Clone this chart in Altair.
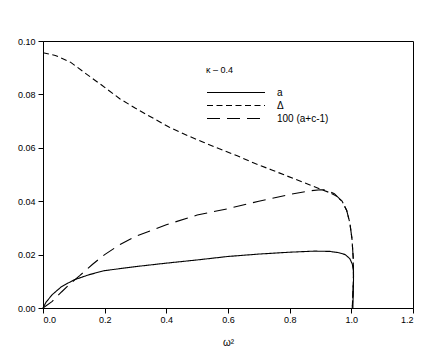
import altair as alt
import pandas as pd

# series: a
x_a = [0.0, 0.01, 0.03, 0.06, 0.10, 0.15, 0.20, 0.30, 0.40, 0.50, 0.60, 0.70, 0.80, 0.88, 0.93,
       0.96, 0.98, 0.995, 1.003, 1.007, 1.007, 1.006, 1.005]
y_a = [0.0, 0.0022, 0.0050, 0.0080, 0.0105, 0.0125, 0.0140, 0.0155, 0.0168, 0.0180, 0.0193,
       0.0202, 0.0209, 0.0213, 0.0212, 0.0207, 0.0200, 0.0185, 0.0165, 0.0140, 0.0100, 0.0050, 0.0]

# series: Delta
x_d = [0.0, 0.04, 0.09, 0.14, 0.19, 0.25, 0.30, 0.36, 0.41, 0.47, 0.52, 0.57, 0.63, 0.69, 0.74,
       0.79, 0.85, 0.90, 0.93, 0.95, 0.97, 0.985, 0.995, 1.002, 1.006, 1.007, 1.005, 1.003]
y_d = [0.0956, 0.0946, 0.0920, 0.0877, 0.0835, 0.0783, 0.0748, 0.0709, 0.0677, 0.0645, 0.0621,
       0.0597, 0.0570, 0.0540, 0.0518, 0.0495, 0.0468, 0.0445, 0.0432, 0.0420, 0.0400, 0.0365,
       0.0320, 0.0260, 0.0190, 0.0120, 0.0050, 0.0]

# series: 100 (a+c-1)
x_c = [0.0, 0.03, 0.06, 0.09, 0.12, 0.16, 0.20, 0.25, 0.30, 0.40, 0.50, 0.60, 0.70, 0.80, 0.86,
       0.90, 0.92, 0.945, 0.97, 0.985, 0.995, 1.002, 1.006, 1.007, 1.005, 1.003]
y_c = [0.0, 0.0025, 0.0060, 0.0093, 0.0122, 0.0163, 0.0200, 0.0238, 0.0268, 0.0312, 0.0348,
       0.0372, 0.0400, 0.0425, 0.0438, 0.0443, 0.0442, 0.0428, 0.0400, 0.0365, 0.0320, 0.0260,
       0.0190, 0.0120, 0.0050, 0.0]

names = ["a", "Δ", "100 (a+c-1)"]
dashes = [[1, 0], [6, 3.5], [13, 7]]

rows = []
for name, xs, ys in [(names[0], x_a, y_a), (names[1], x_d, y_d), (names[2], x_c, y_c)]:
    for i, (x, y) in enumerate(zip(xs, ys)):
        rows.append({"series": name, "w2": x, "val": y, "i": i})
df = pd.DataFrame(rows)

FONT = "Liberation Sans"

chart = alt.Chart(df).mark_line(color="black", strokeWidth=1.1).encode(
    x=alt.X("w2:Q", scale=alt.Scale(domain=[0, 1.2], nice=False, zero=False),
            axis=alt.Axis(title="ω²", values=[0, 0.2, 0.4, 0.6, 0.8, 1.0, 1.2], format=".1f",
                          grid=False, tickSize=5, labelPadding=2, titlePadding=13)),
    y=alt.Y("val:Q", scale=alt.Scale(domain=[0, 0.1], nice=False),
            axis=alt.Axis(title=None, values=[0, 0.02, 0.04, 0.06, 0.08, 0.10], format=".2f",
                          grid=False, tickSize=5, labelPadding=3)),
    strokeDash=alt.StrokeDash("series:N",
                              scale=alt.Scale(domain=names, range=dashes),
                              legend=alt.Legend(title="κ – 0.4", orient="none",
                                                legendX=163, legendY=25,
                                                symbolType="stroke", symbolSize=3364,
                                                symbolStrokeColor="black", symbolStrokeWidth=1.1,
                                                clipHeight=11, rowPadding=2,
                                                labelOffset=11, titlePadding=12,
                                                titleFontWeight="normal", titleFontSize=9,
                                                labelFontSize=10, titleFont=FONT, labelFont=FONT,
                                                titleColor="black", labelColor="black")),
    order="i:Q",
).properties(
    width=370, height=267,
    padding={"left": 9, "top": 29, "right": 5, "bottom": 5},
).configure_view(
    stroke="black", strokeWidth=1
).configure_axis(
    domainColor="black", tickColor="black", labelColor="black", titleColor="black",
    labelFont=FONT, titleFont=FONT, labelFontSize=9, titleFontSize=10,
    titleFontWeight="normal", domainWidth=1
)

chart.save("out.html", embed_options={"renderer": "svg", "actions": False})
